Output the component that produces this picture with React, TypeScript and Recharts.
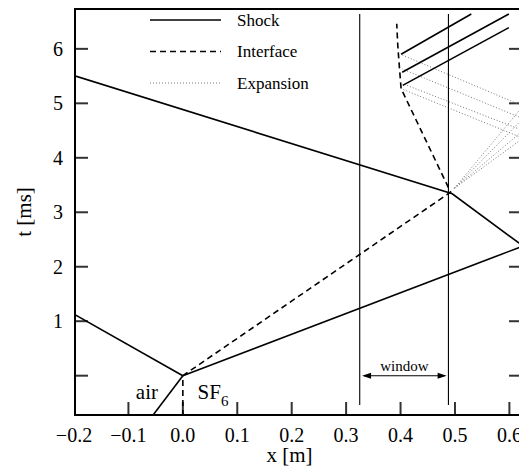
import React from 'react';
import {
  ComposedChart,
  Line,
  XAxis,
  YAxis,
  ReferenceDot,
  Legend
} from 'recharts';

const FONT = '"Liberation Serif", "Times New Roman", serif';

// axis ranges (x in m, t in ms)
const xDomain = [-0.2, 0.625];
const tDomain = [-0.74, 6.75];
const xTicks = [-0.2, -0.1, 0, 0.1, 0.2, 0.3, 0.4, 0.5, 0.6];
const tTicks = [0, 1, 2, 3, 4, 5, 6];

// shock waves
const incidentShock = [{ x: -0.056, t: -0.74 }, { x: 0, t: 0 }];
const reflectedShock = [{ x: 0, t: 0 }, { x: -0.2, t: 1.13 }];
const transmittedShock = [{ x: 0, t: 0 }, { x: 0.625, t: 2.38 }];
const endWallShock = [{ x: 0.625, t: 2.38 }, { x: 0.495, t: 3.34 }, { x: -0.2, t: 5.51 }];
const reshockA = [{ x: 0.401, t: 5.9 }, { x: 0.53, t: 6.64 }];
const reshockB = [{ x: 0.403, t: 5.57 }, { x: 0.599, t: 6.64 }];
const reshockC = [{ x: 0.404, t: 5.33 }, { x: 0.599, t: 6.39 }];

// air / SF6 interface
const interfacePath = [
  { x: 0, t: -0.74 },
  { x: 0, t: 0 },
  { x: 0.492, t: 3.37 },
  { x: 0.401, t: 5.27 },
  { x: 0.398, t: 5.65 },
  { x: 0.395, t: 6.05 },
  { x: 0.393, t: 6.46 }
];

// expansion waves: interface -> end wall -> interface
const expansionA = [{ x: 0.499, t: 3.44 }, { x: 0.625, t: 4.36 }, { x: 0.401, t: 5.27 }];
const expansionB = [{ x: 0.499, t: 3.44 }, { x: 0.625, t: 4.5 }, { x: 0.404, t: 5.36 }];
const expansionC = [{ x: 0.499, t: 3.44 }, { x: 0.625, t: 4.72 }, { x: 0.403, t: 5.63 }];
const expansionD = [{ x: 0.499, t: 3.44 }, { x: 0.625, t: 4.95 }, { x: 0.4, t: 5.9 }];

// observation window
const windowLeft = [{ x: 0.325, t: -0.54 }, { x: 0.325, t: 6.64 }];
const windowRight = [{ x: 0.488, t: -0.54 }, { x: 0.488, t: 6.64 }];
const windowArrow = [{ x: 0.333, t: 0 }, { x: 0.481, t: 0 }];

const shocks = [incidentShock, reflectedShock, transmittedShock, endWallShock, reshockA, reshockB, reshockC];
const expansions = [expansionA, expansionB, expansionC, expansionD];

const legendItems = [
  { name: 'Shock', stroke: '#000', dash: undefined, width: 1.5 },
  { name: 'Interface', stroke: '#000', dash: '6 4', width: 1.5 },
  { name: 'Expansion', stroke: '#777', dash: '1 2', width: 1 }
];

// plot box size in px, used to turn the 14px tick length into data units
const PLOT_W = 449;
const PLOT_H = 408;
const TICK_PX = 14;
const tickX = (TICK_PX * (xDomain[1] - xDomain[0])) / PLOT_W;
const tickT = (TICK_PX * (tDomain[1] - tDomain[0])) / PLOT_H;

// frame and inward tick marks, all in data space
const [x0, x1] = xDomain;
const [t0, t1] = tDomain;
const frame = [
  { x: x0, t: t0 },
  { x: x1, t: t0 },
  { x: x1, t: t1 },
  { x: x0, t: t1 },
  { x: x0, t: t0 }
];
const tickMarks = [
  ...xTicks.map((v) => [{ x: v, t: t0 }, { x: v, t: t0 + tickT }]),
  ...tTicks.map((v) => [{ x: x0, t: v }, { x: x0 + tickX, t: v }]),
  ...tTicks.map((v) => [{ x: x1, t: v }, { x: x1 - tickX, t: v }])
];

const formatX = (v: number) => (v < 0 ? '\u2212' + Math.abs(v).toFixed(1) : v.toFixed(1));
const formatT = (v: number) => (v === 0 ? '' : String(v));

const renderLegend = () => (
  <svg width={200} height={92}>
    {legendItems.map((item, i) => {
      const y = 12 + i * 31.5;
      return (
        <g key={item.name}>
          <line x1={0} x2={71} y1={y} y2={y} stroke={item.stroke} strokeWidth={item.width} strokeDasharray={item.dash} />
          <text x={87} y={y} dominantBaseline="central" fontFamily={FONT} fontSize={17} fill="#000">
            {item.name}
          </text>
        </g>
      );
    })}
  </svg>
);

// arrow heads on both ends of the window span
// eslint-disable-next-line @typescript-eslint/no-explicit-any
const arrowHead = (props: any) => {
  const { cx, cy, index } = props;
  const dir = index === 0 ? -1 : 1;
  const tip = cx + dir * 2;
  const base = tip - dir * 9;
  return (
    <polygon key={`arrow-${index}`} points={`${tip},${cy} ${base},${cy - 3} ${base},${cy + 3}`} fill="#000" />
  );
};

// eslint-disable-next-line @typescript-eslint/no-explicit-any
const textLabel = (text: string, size: number) => (props: any) => {
  const { viewBox } = props;
  const x = viewBox.x + viewBox.width / 2;
  const y = viewBox.y + viewBox.height / 2;
  return (
    <text x={x} y={y} textAnchor="middle" fontFamily={FONT} fontSize={size} fill="#000">
      {text}
    </text>
  );
};

// eslint-disable-next-line @typescript-eslint/no-explicit-any
const sf6Label = (props: any) => {
  const { viewBox } = props;
  const x = viewBox.x + viewBox.width / 2;
  const y = viewBox.y + viewBox.height / 2;
  return (
    <text x={x} y={y} fontFamily={FONT} fontSize={21} fill="#000">
      SF
      <tspan fontSize={15} dy={7}>6</tspan>
    </text>
  );
};

// eslint-disable-next-line @typescript-eslint/no-explicit-any
const xAxisLabel = (props: any) => {
  const { viewBox } = props;
  return (
    <text x={viewBox.x + viewBox.width / 2 - 9} y={454} textAnchor="middle" fontFamily={FONT} fontSize={21} fill="#000">
      x [m]
    </text>
  );
};

const yAxisLabel = () => (
  <text x={0} y={0} transform="translate(23 204) rotate(-90)" textAnchor="middle" fontFamily={FONT} fontSize={21} fill="#000">
    t [ms]
  </text>
);

const tickStyle = { fontSize: 20, fill: '#000', fontFamily: FONT };

const plainLine = {
  type: 'linear' as const,
  dataKey: 't',
  dot: false,
  activeDot: false,
  isAnimationActive: false,
  legendType: 'none' as const
};

const App: React.FC = () => {
  return (
    <div style={{ width: 519, height: 466 }}>
      <ComposedChart width={519} height={466} margin={{ top: 0, right: 4, bottom: 0, left: 0 }}>
        <XAxis
          dataKey="x"
          type="number"
          domain={xDomain}
          ticks={xTicks}
          allowDataOverflow
          tickFormatter={formatX}
          tick={tickStyle}
          tickLine={false}
          tickSize={0}
          tickMargin={12}
          axisLine={false}
          height={58}
          interval={0}
          label={xAxisLabel}
        />
        <YAxis
          dataKey="t"
          type="number"
          domain={tDomain}
          ticks={tTicks}
          allowDataOverflow
          tickFormatter={formatT}
          tick={tickStyle}
          tickLine={false}
          tickSize={0}
          tickMargin={11}
          axisLine={false}
          width={66}
          interval={0}
          label={yAxisLabel}
        />

        {tickMarks.map((mark, i) => (
          <Line key={`tick-${i}`} {...plainLine} data={mark} stroke="#333" strokeWidth={2} />
        ))}
        {/* doubled width: the outer half is clipped at the plot edge */}
        <Line {...plainLine} data={frame} stroke="#000" strokeWidth={4} />

        {expansions.map((wave, i) => (
          <Line key={`exp-${i}`} {...plainLine} data={wave} stroke="#777" strokeWidth={1} strokeDasharray="1 2" />
        ))}

        <Line {...plainLine} data={windowLeft} stroke="#000" strokeWidth={1.1} />
        <Line {...plainLine} data={windowRight} stroke="#000" strokeWidth={1.1} />
        <Line {...plainLine} data={windowArrow} stroke="#000" strokeWidth={1.1} dot={arrowHead} />

        <Line {...plainLine} data={interfacePath} stroke="#000" strokeWidth={1.6} strokeDasharray="6 4" />

        {shocks.map((shock, i) => (
          <Line key={`shock-${i}`} {...plainLine} data={shock} stroke="#000" strokeWidth={1.6} />
        ))}

        <ReferenceDot x={-0.066} y={-0.43} r={0} fill="none" stroke="none" label={textLabel('air', 21)} />
        <ReferenceDot x={0.027} y={-0.43} r={0} fill="none" stroke="none" label={sf6Label} />
        <ReferenceDot x={0.407} y={0.08} r={0} fill="none" stroke="none" label={textLabel('window', 15)} />

        <Legend
          layout="vertical"
          align="center"
          verticalAlign="middle"
          content={renderLegend}
          wrapperStyle={{ left: 142, top: 0, width: 200, height: 92 }}
        />
      </ComposedChart>
    </div>
  );
};

export default App;
